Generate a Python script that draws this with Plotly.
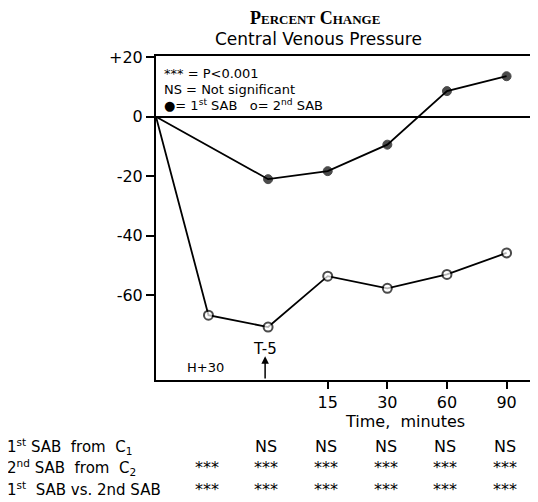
import plotly.graph_objects as go

# ---- data ----
time_labels = ["H+30", "T-5", "15", "30", "60", "90"]
tick_times = ["15", "30", "60", "90"]
first_sab = [0, None, -21.0, -18.3, -9.4, 8.6, 13.6]   # control, H+30, T-5, 15, 30, 60, 90
second_sab = [0, -66.7, -70.7, -53.6, -57.7, -53.0, -45.8]
y_tick_vals = [20, 0, -20, -40, -60]
y_tick_text = ["+20", "0", "-20", "-40", "-60"]
row_labels = ["1<sup>st</sup> SAB  from  C<sub>1</sub>",
              "2<sup>nd</sup> SAB  from  C<sub>2</sub>",
              "1<sup>st</sup>  SAB vs. 2nd SAB"]
row1_sig = ["", "NS", "NS", "NS", "NS", "NS"]
row2_sig = ["***", "***", "***", "***", "***", "***"]
row3_sig = ["***", "***", "***", "***", "***", "***"]

# ---- layout constants (page has an 8px body margin) ----
OFF = 8
W, H = 538 - OFF, 502 - OFF
L, R, T, B = 156 - OFF, 4, 56 - OFF, 122
X_MIN, X_MAX = 0.12, 6.46
Y_MIN, Y_MAX = -88.5, 20.4
FONT = "DejaVu Sans"

pw = W - L - R
ph = H - T - B

def px2x(px):   # page px -> paper x
    return (px - OFF - L) / pw

def py2y(py):   # page px -> paper y
    return (H - B + OFF - py) / ph

cat_x = list(range(1, len(time_labels) + 1))
x_all = [X_MIN] + cat_x
tick_x = [cat_x[time_labels.index(t)] for t in tick_times]

fig = go.Figure()
fig.add_trace(go.Scatter(
    x=x_all, y=first_sab, mode="lines+markers", connectgaps=True,
    line=dict(color="black", width=1.8),
    marker=dict(symbol="circle", size=[0] + [9] * (len(x_all) - 1), color="black",
                line=dict(color="black", width=1)),
    showlegend=False))
fig.add_trace(go.Scatter(
    x=x_all, y=second_sab, mode="lines+markers",
    line=dict(color="black", width=1.8),
    marker=dict(symbol="circle", size=[0] + [9] * (len(x_all) - 1), color="white",
                line=dict(color="black", width=2)),
    showlegend=False))

ann = []
# title
ann.append(dict(xref="paper", yref="paper", x=px2x(315), y=py2y(18),
                text="<b>P<span style='font-size:13px'>ERCENT</span> C<span style='font-size:13px'>HANGE</span></b>",
                font=dict(family="Liberation Serif", size=18, color="black"),
                showarrow=False, xanchor="center", yanchor="middle"))
ann.append(dict(xref="paper", yref="paper", x=px2x(318), y=py2y(39),
                text="Central Venous Pressure",
                font=dict(family=FONT, size=17, color="black"),
                showarrow=False, xanchor="center", yanchor="middle"))
# key
key_lines = ["*** = P&lt;0.001", "NS = Not significant",
             "\u25CF= 1<sup>st</sup> SAB   o= 2<sup>nd</sup> SAB"]
for txt, py in zip(key_lines, [73, 89, 105]):
    ann.append(dict(xref="paper", yref="paper", x=px2x(162), y=py2y(py),
                    text=txt, font=dict(family=FONT, size=13, color="black"),
                    showarrow=False, xanchor="left", yanchor="middle"))
# H+30 and T-5 markers
ann.append(dict(xref="x", yref="paper", x=cat_x[0] - 0.05, y=py2y(367),
                text=time_labels[0], font=dict(family=FONT, size=13, color="black"),
                showarrow=False, xanchor="center", yanchor="middle"))
ann.append(dict(xref="x", yref="paper", x=cat_x[1] - 0.05, y=py2y(349),
                text=time_labels[1], font=dict(family=FONT, size=15, color="black"),
                showarrow=False, xanchor="center", yanchor="middle"))
ann.append(dict(xref="x", yref="y", x=cat_x[1] - 0.05, y=-80.5,
                axref="x", ayref="y", ax=cat_x[1] - 0.05, ay=Y_MIN,
                text="", showarrow=True, arrowhead=2, arrowsize=1,
                arrowwidth=1.5, arrowcolor="black"))
# axis title
ann.append(dict(xref="paper", yref="paper", x=px2x(405), y=py2y(422),
                text="Time,  minutes", font=dict(family=FONT, size=16, color="black"),
                showarrow=False, xanchor="center", yanchor="middle"))
# significance table
for lab, py, vals in zip(row_labels, [446, 468, 489], [row1_sig, row2_sig, row3_sig]):
    ann.append(dict(xref="paper", yref="paper", x=px2x(5), y=py2y(py),
                    text=lab, font=dict(family=FONT, size=15, color="black"),
                    showarrow=False, xanchor="left", yanchor="middle"))
    for xv, v in zip(cat_x, vals):
        if v:
            ann.append(dict(xref="x", yref="paper", x=xv - 0.03, y=py2y(py),
                            text=v, font=dict(family=FONT, size=16, color="black"),
                            showarrow=False, xanchor="center", yanchor="middle"))

fig.update_layout(
    width=W, height=H,
    margin=dict(l=L, r=R, t=T, b=B, autoexpand=False),
    paper_bgcolor="white", plot_bgcolor="white",
    font=dict(family=FONT, color="black"),
    annotations=ann,
    xaxis=dict(range=[X_MIN, X_MAX], showgrid=False, zeroline=False,
               showline=True, linecolor="black", linewidth=2, mirror=True,
               tickmode="array", tickvals=tick_x, ticktext=tick_times,
               ticks="outside", ticklen=7, tickwidth=1.5, tickcolor="black",
               tickfont=dict(family=FONT, size=16, color="black")),
    yaxis=dict(range=[Y_MIN, Y_MAX], showgrid=False,
               zeroline=True, zerolinecolor="black", zerolinewidth=2,
               showline=True, linecolor="black", linewidth=2,
               tickmode="array", tickvals=y_tick_vals, ticktext=y_tick_text,
               ticks="outside", ticklen=8, tickwidth=1.5, tickcolor="black",
               tickfont=dict(family=FONT, size=16, color="black")),
)

fig.write_html("out.html")
